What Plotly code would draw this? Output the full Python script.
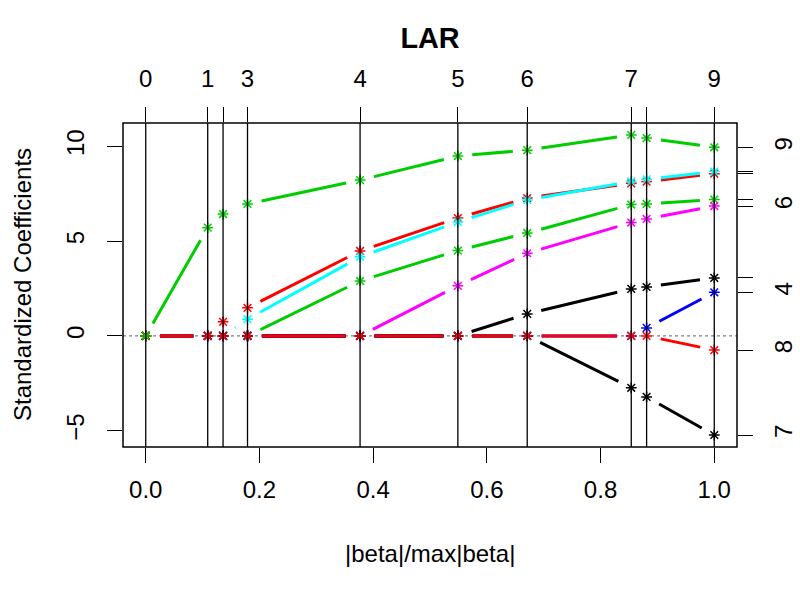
import math
import plotly.graph_objects as go

# ---------------- data ----------------
step_frac = [0.0, 0.109, 0.136, 0.179, 0.377, 0.549, 0.671, 0.854, 0.881, 1.0]
step_labels = ["0", "1", "2", "3", "4", "5", "6", "7", "8", "9"]
step_label_shown = [True, True, False, True, True, True, True, True, False, True]

coef_v1 = [0, 0, 0, 0, 0, 0, 1.16, 2.48, 2.58, 3.06]
coef_v2 = [0, 0, 0.74, 1.48, 4.48, 6.22, 7.27, 8.05, 8.14, 8.56]
coef_v3 = [0, 0, 0, 0, 2.90, 4.50, 5.43, 6.93, 6.96, 7.19]
coef_v4 = [0, 0, 0, 0, 0, 0, 0, 0, 0.42, 2.30]
coef_v5 = [0, 0, 0, 0.88, 4.17, 6.01, 7.17, 8.15, 8.26, 8.67]
coef_v6 = [0, 0, 0, 0, 0, 2.64, 4.36, 5.98, 6.17, 6.85]
coef_v7 = [0, 0, 0, 0, 0, 0, 0, -2.74, -3.22, -5.23]
coef_v8 = [0, 0, 0, 0, 0, 0, 0, 0, 0, -0.75]
coef_v9 = [0, 5.71, 6.43, 6.96, 8.22, 9.49, 9.80, 10.60, 10.44, 9.95]

var_labels = ["1", "2", "3", "4", "5", "6", "7", "8", "9"]
var_label_shown = [False, False, False, True, False, True, True, True, True]

x_ticks = [0.0, 0.2, 0.4, 0.6, 0.8, 1.0]
x_ticktext = ["0.0", "0.2", "0.4", "0.6", "0.8", "1.0"]
y_ticks = [-5, 0, 5, 10]
y_ticktext = ["\u22125", "0", "5", "10"]

coefs = [coef_v1, coef_v2, coef_v3, coef_v4, coef_v5, coef_v6, coef_v7, coef_v8, coef_v9]
palette = ["black", "#FF0000", "#00CD00", "#0000FF", "#00FFFF", "#FF00FF"]

# ---------------- geometry ----------------
W, H = 800, 600
ML, MR, MT, MB = 123, 63, 123, 153
PW, PH = W - ML - MR, H - MT - MB
FONT = "Liberation Sans, Arial, Helvetica, sans-serif"
FS = 24

xr = [-0.04, 1.04]
allv = [v for c in coefs for v in c]
lo, hi = min(allv), max(allv)
pad = 0.04 * (hi - lo)
yr = [lo - pad, hi + pad]

pxx = PW / (xr[1] - xr[0])
pxy = PH / (yr[1] - yr[0])
GAP = 14.4  # type="b" gap around points (px)

fig = go.Figure()

for i, c in enumerate(coefs):
    col = palette[i % len(palette)]
    lx, ly = [], []
    for k in range(len(step_frac) - 1):
        x0, x1 = step_frac[k], step_frac[k + 1]
        y0, y1 = c[k], c[k + 1]
        dx, dy = (x1 - x0) * pxx, (y1 - y0) * pxy
        L = math.hypot(dx, dy)
        if L <= 2 * GAP:
            continue
        t = GAP / L
        lx += [x0 + t * (x1 - x0), x1 - t * (x1 - x0), None]
        ly += [y0 + t * (y1 - y0), y1 - t * (y1 - y0), None]
    fig.add_trace(go.Scatter(x=lx, y=ly, mode="lines",
                             line=dict(color=col, width=3),
                             hoverinfo="skip", showlegend=False))
    fig.add_trace(go.Scatter(x=step_frac, y=c, mode="markers",
                             marker=dict(symbol="asterisk-open", size=9, color=col,
                                         line=dict(color=col, width=1.5)),
                             showlegend=False))

# invisible trace for secondary axes
fig.add_trace(go.Scatter(x=step_frac, y=coef_v9, xaxis="x2", yaxis="y2",
                         mode="markers", marker=dict(opacity=0),
                         hoverinfo="skip", showlegend=False))

shapes = []
shapes.append(dict(type="line", xref="paper", yref="y", x0=0, x1=1, y0=0, y1=0,
                   line=dict(color="#808080", width=1.3, dash="dot"), layer="below"))
for s in step_frac:
    shapes.append(dict(type="line", xref="x", yref="paper", x0=s, x1=s, y0=0, y1=1,
                       line=dict(color="black", width=1.3), layer="above"))
shapes.append(dict(type="rect", xref="paper", yref="paper", x0=0, x1=1, y0=0, y1=1,
                   line=dict(color="black", width=1.5), layer="above"))

final_vals = [c[-1] for c in coefs]
right_text = [lab if show else "" for lab, show in zip(var_labels, var_label_shown)]
top_text = [lab if show else "" for lab, show in zip(step_labels, step_label_shown)]

axis_common = dict(showgrid=False, zeroline=False, showline=False, automargin=False,
                   ticks="outside", ticklen=15, tickwidth=1.3, tickcolor="black",
                   tickfont=dict(family=FONT, size=FS, color="black"))

fig.update_layout(
    width=W, height=H,
    margin=dict(l=ML, r=MR, t=MT, b=MB, pad=0, autoexpand=False),
    paper_bgcolor="white", plot_bgcolor="white",
    font=dict(family=FONT, size=FS, color="black"),
    title=dict(text="<b>LAR</b>", x=(ML + PW / 2) / W, xanchor="center",
               y=1 - 38 / H, yanchor="middle", yref="container",
               font=dict(family=FONT, size=28.8, color="black")),
    xaxis=dict(range=xr, tickmode="array", tickvals=x_ticks, ticktext=x_ticktext,
               ticklabelstandoff=6, **axis_common),
    xaxis2=dict(range=xr, overlaying="x", side="top", tickmode="array",
                tickvals=step_frac, ticktext=top_text, ticklabelstandoff=10,
                **axis_common),
    yaxis=dict(range=yr, tickmode="array", tickvals=y_ticks, ticktext=y_ticktext,
               tickangle=-90, ticklabelstandoff=13, **axis_common),
    yaxis2=dict(range=yr, overlaying="y", side="right", tickmode="array",
                tickvals=final_vals, ticktext=right_text, tickangle=-90,
                ticklabelstandoff=10, **axis_common),
    shapes=shapes,
    annotations=[
        dict(text="|beta|/max|beta|", xref="paper", yref="paper", x=0.5, y=0,
             xanchor="center", yanchor="middle", yshift=-(553 - (MT + PH)),
             showarrow=False, font=dict(family=FONT, size=FS, color="black")),
        dict(text="Standardized Coefficients", xref="paper", yref="paper",
             x=0, y=0.5, xanchor="center", yanchor="middle", textangle=-90,
             xshift=-(ML - 22), showarrow=False,
             font=dict(family=FONT, size=FS, color="black")),
    ],
)

fig.write_html("out.html")
